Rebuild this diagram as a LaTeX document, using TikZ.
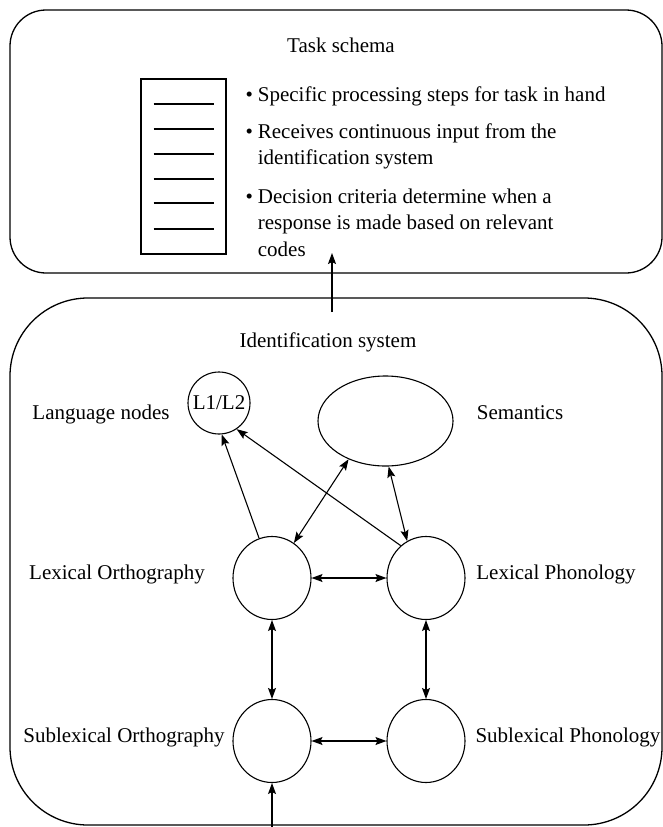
\documentclass[tikz,border=0pt]{standalone}
\usepackage{fontspec}
\setmainfont{Liberation Serif}
\usetikzlibrary{arrows.meta,shapes.geometric}
\begin{document}
\begin{tikzpicture}[x=1pt,y=-1pt, line width=1.1pt,
  every node/.append style={font=\fontsize{21}{26.5}\selectfont},
  frame/.style={draw, line width=1.3pt, inner sep=0pt},
  blob/.style={draw, ellipse, inner sep=0pt},
  lbl/.style={anchor=base, inner sep=0pt},
  arr/.style={-{Stealth[length=11pt,width=8pt,inset=2pt]}},
  darr/.style={{Stealth[length=11pt,width=8pt,inset=2pt]}-{Stealth[length=11pt,width=8pt,inset=2pt]}}]
\useasboundingbox (0,0) rectangle (663,827);

% outer frames
\node[frame, rounded corners=36pt, minimum width=652pt, minimum height=263pt] (taskbox) at (336,141.5) {};
\node[frame, rounded corners=78pt, minimum width=652pt, minimum height=527pt] (idbox) at (336,561.5) {};

% task schema
\node[lbl] (tstitle) at (341,52) {Task schema};
\node[draw, inner sep=0pt, minimum width=85pt, minimum height=175pt] (list) at (183.5,166.5) {};
\foreach \yy in {104,129,154,179,203,229} \draw (153.5,\yy) -- (213.5,\yy);

\node[anchor=base west, inner sep=0pt] (b1) at (245,101.7)
  {\begin{tabular}[t]{@{}l@{\hspace{5pt}}l@{}}\textbullet & Specific processing steps for task in hand\end{tabular}};
\node[anchor=base west, inner sep=0pt] (b2) at (245,138)
  {\begin{tabular}[t]{@{}l@{\hspace{5pt}}l@{}}\textbullet & Receives continuous input from the\\ & identification system\end{tabular}};
\node[anchor=base west, inner sep=0pt] (b3) at (245,203)
  {\begin{tabular}[t]{@{}l@{\hspace{5pt}}l@{}}\textbullet & Decision criteria determine when a\\ & response is made based on relevant\\ & codes\end{tabular}};

% identification system
\node[lbl] (idtitle) at (328,347) {Identification system};

\node[blob, minimum width=62pt, minimum height=62pt] (l12) at (219,403) {\makebox[0pt]{L1/L2}};
\node[blob, minimum width=135pt, minimum height=90pt] (sem) at (385.5,421) {};
\node[blob, minimum width=78pt, minimum height=83pt] (lo) at (272,578) {};
\node[blob, minimum width=78pt, minimum height=83pt] (lp) at (426,578) {};
\node[blob, minimum width=78pt, minimum height=83pt] (so) at (272,741) {};
\node[blob, minimum width=78pt, minimum height=83pt] (sp) at (426,741) {};

\node[lbl] (langlbl) at (101,419) {Language nodes};
\node[lbl] (semlbl) at (520,419) {Semantics};
\node[lbl] (lolbl) at (117,579) {Lexical Orthography};
\node[lbl] (lplbl) at (556,579) {Lexical Phonology};
\node[lbl] (solbl) at (124,742) {Sublexical Orthography};
\node[lbl] (splbl) at (568,742) {Sublexical Phonology};

% connectors
\draw[arr] (lo.108) -- (l12.-85);
\draw[arr] (lp.128) -- (l12.-56);
\draw[darr] (lo.58) -- (sem.-134);
\draw[darr] (lp.117) -- (sem.-86);
\draw[darr] (lo) -- (lp);
\draw[darr] (so) -- (sp);
\draw[darr] (lo) -- (so);
\draw[darr] (lp) -- (sp);

\coordinate (inp) at (272,827);
\draw[arr] (inp) -- (so);
\coordinate (idout) at (332,312);
\coordinate (tsin) at (332,253);
\draw[arr] (idout) -- (tsin);
\end{tikzpicture}
\end{document}
